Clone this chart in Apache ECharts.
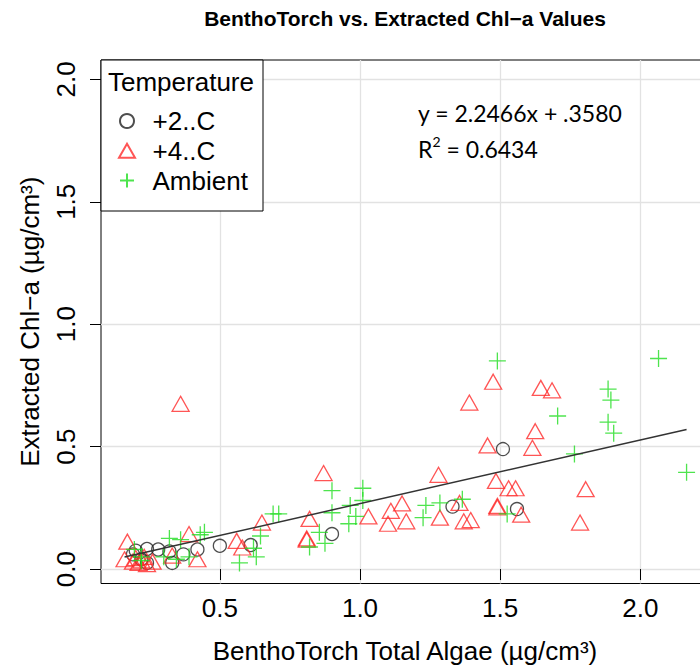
<!DOCTYPE html>
<html><head><meta charset="utf-8">
<script src="https://cdn.jsdelivr.net/npm/echarts@6/dist/echarts.min.js"></script>
<style>html,body{margin:0;padding:0;background:#fff}#c{width:700px;height:667px}</style>
</head><body><div id="c"></div>
<script>
// ---- data ----
const seriesNames = ['+2..C', '+4..C', 'Ambient'];
const xTicks = [0.5, 1.0, 1.5, 2.0];
const yTicks = [0.0, 0.5, 1.0, 1.5, 2.0];

const c2X = [0.19, 0.20, 0.22, 0.24, 0.24, 0.28, 0.32, 0.33, 0.37, 0.42, 0.50, 0.61, 0.90, 1.33, 1.51, 1.56];
const c2Y = [0.060, 0.075, 0.040, 0.082, 0.025, 0.080, 0.072, 0.025, 0.060, 0.080, 0.095, 0.098, 0.143, 0.255, 0.490, 0.245];

const c4X = [0.16, 0.17, 0.19, 0.20, 0.21, 0.22, 0.23, 0.24, 0.26, 0.33, 0.36, 0.39, 0.42, 0.56, 0.58, 0.65, 0.81, 0.81, 0.82, 0.87, 1.03, 1.10, 1.11, 1.15, 1.165, 1.28, 1.285, 1.355, 1.37, 1.39, 1.395, 1.455, 1.475, 1.485, 1.49, 1.49, 1.53, 1.555, 1.575, 1.615, 1.625, 1.645, 1.685, 1.785, 1.805];
const c4Y = [0.040, 0.112, 0.030, 0.045, 0.025, 0.035, 0.050, 0.020, 0.030, 0.055, 0.675, 0.143, 0.040, 0.115, 0.088, 0.190, 0.120, 0.125, 0.205, 0.392, 0.215, 0.185, 0.238, 0.268, 0.195, 0.385, 0.210, 0.270, 0.195, 0.680, 0.200, 0.505, 0.765, 0.360, 0.258, 0.252, 0.330, 0.330, 0.222, 0.495, 0.563, 0.740, 0.730, 0.190, 0.326];

const ambX = [0.195, 0.22, 0.22, 0.30, 0.32, 0.345, 0.36, 0.39, 0.43, 0.445, 0.57, 0.62, 0.63, 0.645, 0.69, 0.71, 0.82, 0.855, 0.875, 0.90, 0.90, 0.96, 0.965, 0.985, 1.01, 1.01, 1.225, 1.235, 1.285, 1.365, 1.49, 1.525, 1.705, 1.765, 1.885, 1.895, 1.885, 1.905, 2.065, 2.165];
const ambY = [0.080, 0.035, 0.050, 0.050, 0.125, 0.040, 0.120, 0.050, 0.140, 0.150, 0.025, 0.085, 0.050, 0.135, 0.225, 0.225, 0.090, 0.150, 0.105, 0.320, 0.230, 0.185, 0.260, 0.215, 0.330, 0.280, 0.210, 0.260, 0.270, 0.285, 0.850, 0.225, 0.625, 0.470, 0.735, 0.690, 0.600, 0.555, 0.860, 0.395];

const fitX = [0.16, 2.165];
const fitY = [0.049, 0.570];

const titleText = 'BenthoTorch vs. Extracted Chl\u2212a Values';
const xName = 'BenthoTorch Total Algae (\u00b5g/cm\u00b3)';
const yName = 'Extracted Chl\u2212a (\u00b5g/cm\u00b3)';
const legendTitle = 'Temperature';
const eqText = 'y = 2.2466x + .3580';
const r2Base = 'R';
const r2Sup = '2';
const r2Rest = ' = 0.6434';

// ---- build ----
const zip = (xs, ys) => xs.map((x, i) => [x, ys[i]]);
const FONT = 'Liberation Sans, Arial, sans-serif';
const plusPath = 'path://M0,7 L14,7 M7,0 L7,14';
const triPath = 'path://M8,0 L16,14 L0,14 Z';

const chart = echarts.init(document.getElementById('c'), null, {renderer: 'svg'});
chart.setOption({
  animation: false,
  backgroundColor: '#fff',
  grid: {left: 101, top: 60, right: -9, bottom: 83.5, show: true, borderColor: '#000', borderWidth: 1, backgroundColor: 'transparent', outerBoundsMode: 'none', containLabel: false},
  xAxis: {
    type: 'value', min: 0.076, max: 2.245,
    axisLine: {show: false},
    axisTick: {show: true, length: 11, customValues: xTicks, lineStyle: {color: '#000', width: 1}},
    axisLabel: {customValues: xTicks, formatter: v => v.toFixed(1), fontSize: 26, color: '#000', margin: 11, fontFamily: FONT},
    splitLine: {show: true, lineStyle: {color: '#e2e2e2', width: 1.3}},
    name: xName, nameLocation: 'middle', nameGap: 54,
    nameTextStyle: {fontSize: 26, color: '#000', fontFamily: FONT}
  },
  yAxis: {
    type: 'value', min: -0.059, max: 2.079,
    axisLine: {show: false},
    axisTick: {show: true, length: 11, customValues: yTicks, lineStyle: {color: '#000', width: 1}},
    axisLabel: {customValues: yTicks, formatter: v => v.toFixed(1), fontSize: 26, color: '#000', margin: 22, rotate: 90, fontFamily: FONT},
    splitLine: {show: true, lineStyle: {color: '#e2e2e2', width: 1.3}},
    name: yName, nameLocation: 'middle', nameGap: 58,
    nameTextStyle: {fontSize: 26, color: '#000', fontFamily: FONT}
  },
  legend: {
    show: true, orient: 'vertical', left: 118, top: 108, padding: 0,
    itemWidth: 41, itemHeight: 14, itemGap: 3.8, selectedMode: false, z: 10,
    data: [
      {name: seriesNames[0]},
      {name: seriesNames[1], icon: triPath},
      {name: seriesNames[2]}
    ],
    textStyle: {fontSize: 26, lineHeight: 25, color: '#000', fontFamily: FONT}
  },
  graphic: [
    {type: 'rect', z: 3, shape: {x: 101, y: 60, width: 162, height: 151}, style: {fill: '#fff', stroke: '#000', lineWidth: 1}},
    {type: 'text', z: 4, style: {text: legendTitle, x: 108, y: 82, font: '26px ' + FONT, fill: '#000', textVerticalAlign: 'middle', verticalAlign: 'middle'}},
    {type: 'text', z: 4, style: {text: titleText, x: 405, y: 18, font: 'bold 21px ' + FONT, fill: '#000', textAlign: 'center', align: 'center', textVerticalAlign: 'middle', verticalAlign: 'middle'}},
    {type: 'text', z: 4, style: {text: eqText, x: 418, y: 113, font: '23px Lato, sans-serif', fill: '#000', textVerticalAlign: 'middle', verticalAlign: 'middle'}},
    {type: 'text', z: 4, style: {
      text: '{b|' + r2Base + '}{s|' + r2Sup + '}{b|' + r2Rest + '}', x: 418, y: 147,
      textVerticalAlign: 'middle', verticalAlign: 'middle',
      rich: {
        b: {fontSize: 23, fontFamily: 'Lato, sans-serif', color: '#000', lineHeight: 26, verticalAlign: 'bottom'},
        s: {fontSize: 14, fontFamily: 'Lato, sans-serif', color: '#000', lineHeight: 14, verticalAlign: 'top'}
      }
    }}
  ],
  series: [
    {name: seriesNames[0], type: 'scatter', data: zip(c2X, c2Y), symbol: 'circle', symbolSize: 13, z: 2,
     itemStyle: {color: 'rgba(0,0,0,0)', borderColor: '#222', borderWidth: 1.3}, emphasis: {disabled: true}},
    {name: seriesNames[1], type: 'scatter', data: zip(c4X, c4Y), symbol: 'triangle', symbolSize: [17, 15], z: 2,
     itemStyle: {color: 'rgba(0,0,0,0)', borderColor: '#ff2a2a', borderWidth: 1.3}, emphasis: {disabled: true}},
    {name: seriesNames[2], type: 'scatter', data: zip(ambX, ambY), symbol: plusPath, symbolSize: 17, z: 2,
     itemStyle: {color: 'rgba(0,0,0,0)', borderColor: '#22dd22', borderWidth: 1.3}, emphasis: {disabled: true}},
    {name: 'fit', type: 'line', data: zip(fitX, fitY), symbol: 'none', z: 3,
     lineStyle: {color: '#333', width: 1.5}, emphasis: {disabled: true}}
  ]
});
</script></body></html>
